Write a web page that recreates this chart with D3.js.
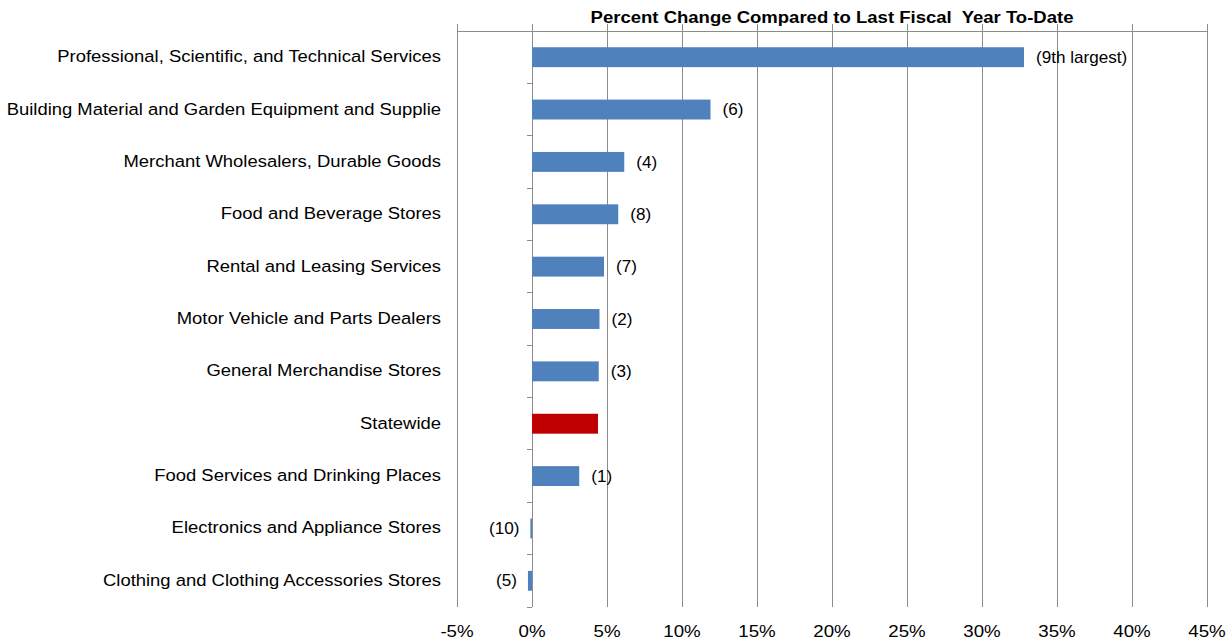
<!DOCTYPE html>
<html><head><meta charset="utf-8">
<script src="https://cdn.jsdelivr.net/npm/d3@7"></script>
<style>body{margin:0;background:#fff;}svg{display:block;font-family:"Liberation Sans",Arial,sans-serif;}</style>
</head><body><svg id="c" width="1231" height="640"></svg>
<script>
const categories = ["Professional, Scientific, and Technical Services","Building Material and Garden Equipment and Supplie","Merchant Wholesalers, Durable Goods","Food and Beverage Stores","Rental and Leasing Services","Motor Vehicle and Parts Dealers","General Merchandise Stores","Statewide","Food Services and Drinking Places","Electronics and Appliance Stores","Clothing and Clothing Accessories Stores"];
const values = [32.8, 11.9, 6.15, 5.75, 4.8, 4.5, 4.45, 4.4, 3.15, -0.11, -0.27];
const rankLabels = ["(9th largest)","(6)","(4)","(8)","(7)","(2)","(3)","","(1)","(10)","(5)"];
const highlight = "Statewide";
const tickValues = [-5,0,5,10,15,20,25,30,35,40,45];
const title = "Percent Change Compared to Last Fiscal  Year To-Date";

const svg = d3.select("#c");
const L = 457, R = 1207, T = 31, B = 607;
const x = d3.scaleLinear().domain([-5,45]).range([L,R]);
const y = d3.scaleBand().domain(categories).range([T,B]).padding(0);
const bw = y.bandwidth(), bh = bw*0.38;
const SX = 1.085;

svg.append("g").selectAll("line").data(tickValues.filter(d=>d!==0)).join("line")
  .attr("x1",d=>x(d)).attr("x2",d=>x(d)).attr("y1",T-7).attr("y2",B)
  .attr("stroke","#8c8c8c").attr("stroke-width",1).attr("shape-rendering","crispEdges");
svg.append("line").attr("x1",L).attr("x2",R).attr("y1",T).attr("y2",T)
  .attr("stroke","#8c8c8c").attr("shape-rendering","crispEdges");
svg.append("line").attr("x1",x(0)).attr("x2",x(0)).attr("y1",T-7).attr("y2",B)
  .attr("stroke","#8c8c8c").attr("shape-rendering","crispEdges");
const bounds = d3.range(categories.length+1).map(i=>T+i*bw);
svg.append("g").selectAll("line").data(bounds.slice(1)).join("line")
  .attr("x1",x(0)-5).attr("x2",x(0)).attr("y1",d=>d).attr("y2",d=>d)
  .attr("stroke","#8c8c8c").attr("shape-rendering","crispEdges");

svg.append("g").selectAll("rect").data(categories).join("rect")
  .attr("x",(d,i)=>x(Math.min(0,values[i])))
  .attr("width",(d,i)=>Math.abs(x(values[i])-x(0)))
  .attr("y",d=>y(d)+(bw-bh)/2).attr("height",bh)
  .attr("fill",d=>d===highlight?"#C00000":"#4F81BD");

svg.append("g").selectAll("text").data(categories).join("text")
  .attr("transform",(d,i)=>`translate(${values[i]>=0 ? x(values[i])+12 : x(values[i])-11},${y(d)+bw/2}) scale(1.07,1)`)
  .attr("dy","0.35em")
  .attr("text-anchor",(d,i)=>values[i]>=0?"start":"end")
  .attr("font-size",16).attr("fill","#000")
  .text((d,i)=>rankLabels[i]);

svg.append("g").selectAll("text").data(categories).join("text")
  .attr("transform",d=>`translate(441,${y(d)+bw/2-1}) scale(${SX},1)`)
  .attr("dy","0.35em")
  .attr("text-anchor","end").attr("font-size",17).attr("fill","#000")
  .text(d=>d);

svg.append("g").selectAll("text").data(tickValues).join("text")
  .attr("transform",d=>`translate(${x(d)},631) scale(1.1,1)`).attr("dy","0.35em")
  .attr("text-anchor","middle").attr("font-size",17).attr("fill","#000")
  .text(d=>d+"%");

svg.append("text").attr("transform",`translate(${(L+R)/2},17) scale(1.09,1)`).attr("dy","0.35em")
  .attr("text-anchor","middle").attr("font-size",17).attr("font-weight","bold")
  .style("white-space","pre").text(title);
</script></body></html>
